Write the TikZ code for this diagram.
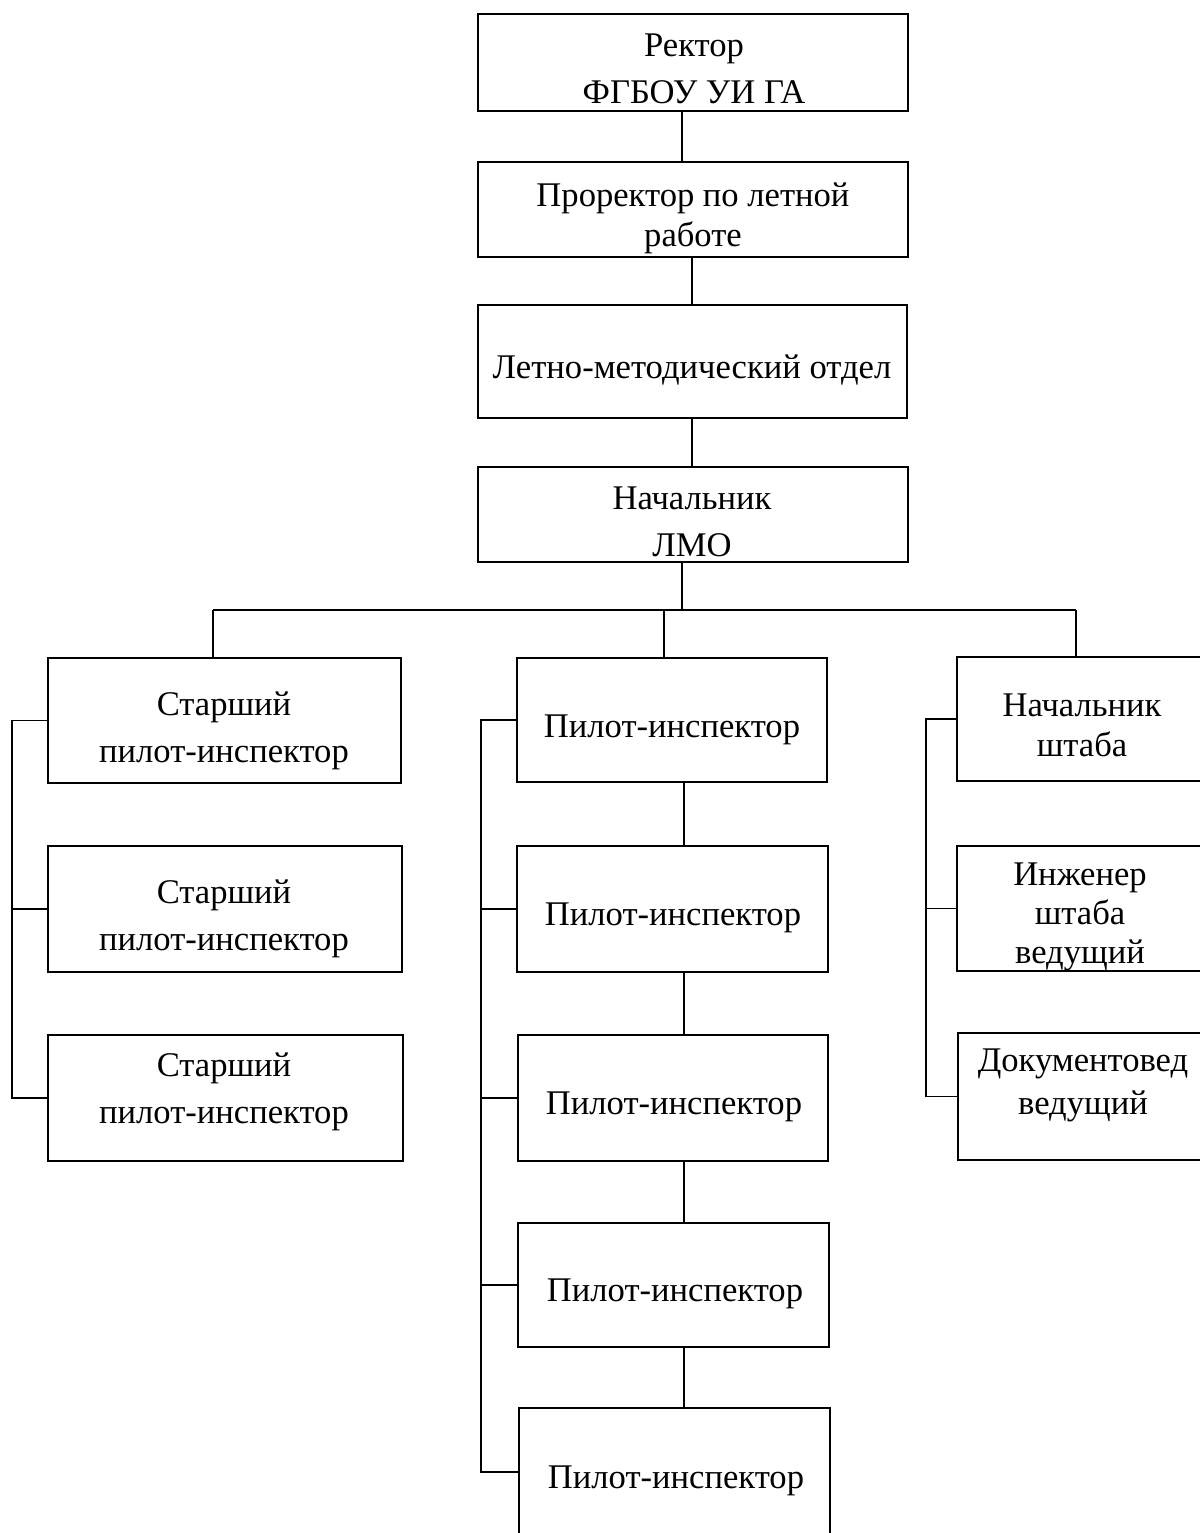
\documentclass[tikz,border=0pt]{standalone}
\usepackage{fontspec}
\setmainfont{Liberation Serif}
\newcommand{\mkbox}[5]{%
  \node[box, minimum width={(#4-#2)*0.5pt}, minimum height={(#5-#3)*0.5pt}] (#1) at ({(#2+#4)/2},{(#3+#5)/2}) {};}
\begin{document}
\begin{tikzpicture}[x=0.5pt, y=-0.5pt,
  box/.style={draw, line width=0.9pt, rectangle, inner sep=0pt, outer sep=0pt},
  conn/.style={draw, line width=0.9pt},
  lbl/.style={anchor=base, align=center, inner sep=0pt, font={\fontsize{17.3pt}{#1}\selectfont}},
  lbl/.default=20pt]
\useasboundingbox (0,0) rectangle (1200,1533);
\fill[white] (0,0) rectangle (1200,1533);
\begin{scope}
\clip (0,0) rectangle (1200,1533);
% top chain
\mkbox{rector}{478}{14}{908}{111}
\mkbox{prorector}{478}{162}{908}{257}
\mkbox{lmo}{478}{305}{907}{418}
\mkbox{nach}{478}{467}{908}{562}
% left column
\mkbox{l1}{48}{658}{401}{783}
\mkbox{l2}{48}{846}{402}{972}
\mkbox{l3}{48}{1035}{403}{1161}
% centre column
\mkbox{p1}{517}{658}{827}{782}
\mkbox{p2}{517}{846}{828}{972}
\mkbox{p3}{518}{1035}{828}{1161}
\mkbox{p4}{518}{1223}{829}{1347}
\mkbox{p5}{519}{1408}{830}{1540}
% right column
\mkbox{s1}{957}{657}{1207}{781}
\mkbox{s2}{957}{846}{1207}{971}
\mkbox{s3}{958}{1033}{1208}{1160}

% texts (anchor base = last line)
\node[lbl=23.5pt] (rectorT) at (694,103) {Ректор\\ФГБОУ УИ ГА};
\node[lbl=20pt] (prorectorT) at (693,246) {Проректор по летной\\работе};
\node[lbl] (lmoT) at (692,378) {Летно-методический отдел};
\node[lbl=23.5pt] (nachT) at (692,556) {Начальник\\ЛМО};
\node[lbl=23.5pt] (l1T) at (224,762) {Старший\\пилот-инспектор};
\node[lbl=23.5pt] (l2T) at (224,950) {Старший\\пилот-инспектор};
\node[lbl=23.5pt] (l3T) at (224,1123) {Старший\\пилот-инспектор};
\node[lbl] (p1T) at (672,737) {Пилот-инспектор};
\node[lbl] (p2T) at (673,925) {Пилот-инспектор};
\node[lbl] (p3T) at (674,1114) {Пилот-инспектор};
\node[lbl] (p4T) at (675,1301) {Пилот-инспектор};
\node[lbl] (p5T) at (676,1488) {Пилот-инспектор};
\node[lbl=20pt] (s1T) at (1082,756) {Начальник\\штаба};
\node[lbl=19.5pt] (s2T) at (1080,963) {Инженер\\штаба\\ведущий};
\node[lbl=21.5pt] (s3T) at (1083,1114) {Документовед\\ведущий};

% connector x positions
\coordinate (xa) at (682,0);
\coordinate (xb) at (692,0);
\coordinate (xc) at (684,0);
\coordinate (busL) at (213,610);
\coordinate (busC) at (664,610);
\coordinate (busR) at (1076,610);
\coordinate (xL) at (12,0);
\coordinate (xC) at (481,0);
\coordinate (xR) at (926,0);
\coordinate (p5tick) at (519,1472);

\draw[conn] (rector.south -| xa) -- (prorector.north -| xa);
\draw[conn] (prorector.south -| xb) -- (lmo.north -| xb);
\draw[conn] (lmo.south -| xb) -- (nach.north -| xb);
\draw[conn] (nach.south -| xa) -- (busL -| xa);
\draw[conn] (busL) -- (busR);
\draw[conn] (busL) -- (l1.north -| busL);
\draw[conn] (busC) -- (p1.north -| busC);
\draw[conn] (busR) -- (s1.north -| busR);

% left bus
\draw[conn] (l1.west) -- (l1.west -| xL) -- (l3.west -| xL) -- (l3.west);
\draw[conn] (l2.west) -- (l2.west -| xL);
% centre bus
\draw[conn] (p1.west) -- (p1.west -| xC) -- (p5tick -| xC) -- (p5tick);
\draw[conn] (p2.west) -- (p2.west -| xC);
\draw[conn] (p3.west) -- (p3.west -| xC);
\draw[conn] (p4.west) -- (p4.west -| xC);
% centre chain
\draw[conn] (p1.south -| xc) -- (p2.north -| xc);
\draw[conn] (p2.south -| xc) -- (p3.north -| xc);
\draw[conn] (p3.south -| xc) -- (p4.north -| xc);
\draw[conn] (p4.south -| xc) -- (p5.north -| xc);
% right bus
\draw[conn] (s1.west) -- (s1.west -| xR) -- (s3.west -| xR) -- (s3.west);
\draw[conn] (s2.west) -- (s2.west -| xR);
\end{scope}
\end{tikzpicture}
\end{document}
